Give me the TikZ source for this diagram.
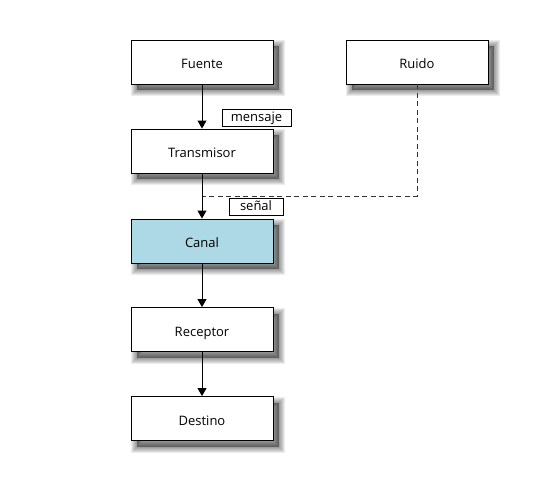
\documentclass[tikz,border=0pt]{standalone}
\usepackage{fontspec}
\setmainfont{Open Sans}
\usetikzlibrary{arrows.meta}
\definecolor{canalblue}{HTML}{ADD8E6}
\tikzset{
  shlayer/.style={preaction={fill=black, draw=black, line width=#1, opacity=0.075,
    transform canvas={xshift=5.5pt, yshift=-6pt}}},
  softshadow/.style={shlayer=12pt, shlayer=10pt, shlayer=8pt, shlayer=6pt, shlayer=4pt, shlayer=2pt},
  blockbox/.style={softshadow, draw=black, line width=0.9pt, fill=white, minimum width=142pt, minimum height=44pt,
    inner sep=0pt, text height=13pt, text depth=0pt, font=\fontsize{13}{15}\selectfont},
  tagbox/.style={draw=black, line width=0.7pt, fill=white, inner sep=0pt, text height=11pt, text depth=3pt, font=\fontsize{13}{15}\selectfont},
  flow/.style={line width=0.9pt, -{Triangle[width=9pt,length=8pt]}},
  noise/.style={line width=1pt, dash pattern=on 5pt off 3.5pt, draw=black!80}
}
\begin{document}
\begin{tikzpicture}[x=1pt,y=-1pt]
\fill[white] (0,0) rectangle (554,485);
\useasboundingbox (0,0) rectangle (554,485);
\node[blockbox] (fuente) at (202,62) {Fuente};
\node[blockbox] (ruido) at (417,62) {Ruido};
\node[blockbox] (trans) at (202,151) {Transmisor};
\node[blockbox, fill=canalblue] (canal) at (202,241) {Canal};
\node[blockbox] (recep) at (202,329.5) {Receptor};
\node[blockbox] (dest) at (202,418.5) {Destino};
\coordinate (bend) at (417,196);
\coordinate (join) at (202,196);
\draw[noise] (ruido.south) -- (bend) -- (join);
\draw[flow] (fuente) -- (trans);
\draw[flow] (trans) -- (canal);
\draw[flow] (canal) -- (recep);
\draw[flow] (recep) -- (dest);
\node[tagbox, minimum width=69pt, minimum height=17pt] (lmens) at (256.5,117.5) {mensaje};
\node[tagbox, minimum width=54pt, minimum height=17pt] (lsenal) at (256,206.5) {señal};
\end{tikzpicture}
\end{document}
